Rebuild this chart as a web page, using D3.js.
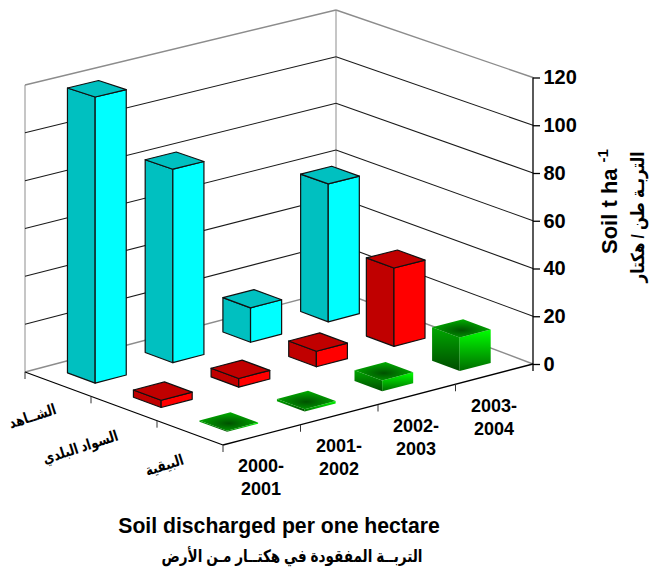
<!DOCTYPE html>
<html>
<head>
<meta charset="utf-8">
<script src="https://cdn.jsdelivr.net/npm/d3@7"></script>
<style>
  body { margin: 0; background: #fff; }
  text { font-family: "Liberation Sans", "DejaVu Sans", sans-serif; font-weight: bold; fill: #000; }
</style>
</head>
<body>
<script>
let years = ["2000-2001", "2001-2002", "2002-2003", "2003-2004"];
let rows = ["الشاهد", "السواد البلدي", "البيقية"];
let cyanValues = [119, 81, 14.5, 58.5];
let redValues = [3, 3.6, 6.5, 33];
let greenValues = [0.5, 1, 4.5, 14];
let yTicks = [0, 20, 40, 60, 80, 100, 120];
let yearLines = [["2000-", "2001"], ["2001-", "2002"], ["2002-", "2003"], ["2003-", "2004"]];

let seriesValues = [cyanValues, redValues, greenValues];
let colors = [
  {top: "#00c0c0", left: "#00c0c0", right: "#00ffff"},
  {top: "#c00000", left: "#c00000", right: "#ff0000"},
  {top: "url(#gTop)", left: "url(#gLeft)", right: "url(#gRight)"}
];

let svg = d3.select("body").append("svg").attr("width", 651).attr("height", 574);

// the green bars are shaded, the other two are flat
let defs = svg.append("defs");
function addGrad(id, c1, c2) {
  let g = defs.append("linearGradient").attr("id", id).attr("x1", 0).attr("y1", 0).attr("x2", 0).attr("y2", 1);
  g.append("stop").attr("offset", "0%").attr("stop-color", c1);
  g.append("stop").attr("offset", "100%").attr("stop-color", c2);
}
addGrad("gLeft", "#00a800", "#004c00");
addGrad("gRight", "#00ff00", "#006c00");
let gt = defs.append("radialGradient").attr("id", "gTop").attr("cx", "50%").attr("cy", "60%").attr("r", "60%");
gt.append("stop").attr("offset", "0%").attr("stop-color", "#005200");
gt.append("stop").attr("offset", "100%").attr("stop-color", "#00b000");

// corners of the floor on screen: p00 back-left, p10 back, p01 front, p11 right
let p00 = [25, 372], p10 = [336, 290], p01 = [223, 445], p11 = [533, 364];
// pixel height of the 120 level at those same corners
let h00 = 287, h10 = 280, h01 = 296, h11 = 286.5;

let uScale = d3.scaleBand().domain(years).range([0, 1]).paddingInner(0.6).paddingOuter(0.3);
let vScale = d3.scaleBand().domain(rows).range([0, 1]).paddingInner(0.58).paddingOuter(0.29);
let yScale = d3.scaleLinear().domain([0, 120]).range([0, 1]);

function bilin(a, b, c, d, u, v) {
  return (a * (1 - u) + b * u) * (1 - v) + (c * (1 - u) + d * u) * v;
}
function proj(u, v, val) {
  let x = bilin(p00[0], p10[0], p01[0], p11[0], u, v);
  let y = bilin(p00[1], p10[1], p01[1], p11[1], u, v);
  let h = bilin(h00, h10, h01, h11, u, v);
  return [x, y - h * yScale(val)];
}
let line = d3.line();

let grid = svg.append("g");
// back walls, floor edges in gray
let grayCol = "#8c8c8c";
function seg(g, a, b, col, w) {
  g.append("path").attr("d", line([a, b])).attr("stroke", col).attr("stroke-width", w).attr("fill", "none");
}
seg(grid, proj(0, 0, 0), proj(0, 0, 120), "#a0a0a0", 1.2);
seg(grid, proj(1, 0, 0), proj(1, 0, 120), "#a0a0a0", 1.2);
seg(grid, proj(0, 0, 0), proj(1, 0, 0), grayCol, 1.4);
seg(grid, proj(1, 0, 0), proj(1, 1, 0), grayCol, 1.4);
seg(grid, proj(0, 0, 120), proj(1, 0, 120), grayCol, 1.4);
seg(grid, proj(1, 0, 120), proj(1, 1, 120), grayCol, 1.4);
yTicks.filter(d => d > 0 && d < 120).forEach(d => {
  seg(grid, proj(0, 0, d), proj(1, 0, d), "#1a1a1a", 1.1);
  seg(grid, proj(1, 0, d), proj(1, 1, d), "#1a1a1a", 1.1);
});

// floor front edges and ticks
let axes = svg.append("g");
seg(axes, proj(0, 0, 0), proj(0, 1, 0), "#000", 1.3);
seg(axes, proj(0, 1, 0), proj(1, 1, 0), "#000", 1.3);
d3.range(0, 5).forEach(i => {
  let p = proj(i / 4, 1, 0);
  if (i < 4) seg(axes, p, [p[0], p[1] + 7], "#333", 1);
});
d3.range(0, 3).forEach(i => {
  let p = proj(0, i / 3, 0);
  seg(axes, p, [p[0], p[1] + 7], "#333", 1);
});

// right value axis
let axisX = p11[0];
let yAxisScale = d3.scaleLinear().domain([0, 120]).range([p11[1], p11[1] - h11]);
let yAxis = svg.append("g").attr("transform", "translate(" + axisX + ",0)")
  .call(d3.axisRight(yAxisScale).tickValues(yTicks).tickSize(7).tickPadding(3.5).tickFormat(d3.format("d")));
yAxis.select(".domain").attr("d", "M0," + yAxisScale(120) + "V" + (yAxisScale(0) + 7)).attr("stroke-width", 1.3);
yAxis.selectAll(".tick line").attr("stroke-width", 1.3);
yAxis.selectAll("text").style("font-size", "20px").style("font-family", "'Liberation Sans'").style("font-weight", "bold");

// bars, painted from the farthest base to the nearest
let bars = [];
rows.forEach((r, ri) => {
  years.forEach((yr, i) => {
    bars.push({row: ri, u0: uScale(yr), u1: uScale(yr) + uScale.bandwidth(),
      v0: vScale(r), v1: vScale(r) + vScale.bandwidth(), value: seriesValues[ri][i]});
  });
});
bars.sort((a, b) => proj(a.u0, a.v0, 0)[1] - proj(b.u0, b.v0, 0)[1]);

let barG = svg.append("g").selectAll("g").data(bars).enter().append("g");
function face(sel, fn, key) {
  sel.append("path")
    .attr("d", d => line(fn(d)) + "Z")
    .attr("fill", d => colors[d.row][key])
    .attr("stroke", d => d.row == 2 ? "none" : "#111")
    .attr("stroke-width", 1.2)
    .attr("stroke-linejoin", "round");
}
face(barG, d => [proj(d.u0, d.v0, 0), proj(d.u0, d.v1, 0), proj(d.u0, d.v1, d.value), proj(d.u0, d.v0, d.value)], "left");
face(barG, d => [proj(d.u0, d.v1, 0), proj(d.u1, d.v1, 0), proj(d.u1, d.v1, d.value), proj(d.u0, d.v1, d.value)], "right");
face(barG, d => [proj(d.u0, d.v0, d.value), proj(d.u0, d.v1, d.value), proj(d.u1, d.v1, d.value), proj(d.u1, d.v0, d.value)], "top");

// year labels, two lines each
let yearX = [261, 339, 416, 494];
let yearY = [472, 452, 432, 412];
svg.append("g").selectAll("text").data(yearLines).enter().append("text")
  .attr("text-anchor", "middle").attr("font-size", 18)
  .attr("x", (d, i) => yearX[i]).attr("y", (d, i) => yearY[i])
  .each(function(d, i) {
    d3.select(this).selectAll("tspan").data(d).enter().append("tspan")
      .attr("x", yearX[i]).attr("dy", (t, k) => k ? 23.3 : 0).text(t => t);
  });

// row labels along the depth axis, DejaVu arabic runs wide so squeeze it
let rowPos = [[34, 421], [82, 452], [166, 470]];
let rowText = ["الشــاهد", "السواد البلدي", "البيقية"];
svg.append("g").selectAll("text").data(rowText).enter().append("text")
  .attr("text-anchor", "middle").attr("font-size", 15)
  .attr("transform", (d, i) => "translate(" + rowPos[i][0] + "," + rowPos[i][1] + ") rotate(-18) scale(0.8,1)")
  .text(d => d);

// titles
svg.append("text").attr("x", 279).attr("y", 533).attr("text-anchor", "middle")
  .attr("font-size", 21.2).text("Soil discharged per one hectare");
svg.append("text").attr("transform", "translate(292,562) scale(0.8,1)").attr("text-anchor", "middle")
  .attr("font-size", 17).text("التربــة المفقودة في هكتــار مـن الأرض");

let yt = svg.append("text").attr("transform", "translate(617,254) rotate(-90)").attr("font-size", 22).text("Soil t ha");
yt.append("tspan").attr("font-size", 15).attr("dx", 6).attr("dy", -9).text("-1");
svg.append("text").attr("transform", "translate(644,217) rotate(-90) scale(0.84,1)").attr("text-anchor", "middle")
  .attr("font-size", 18).text("التربـة طن / هكتار");
</script>
</body>
</html>
